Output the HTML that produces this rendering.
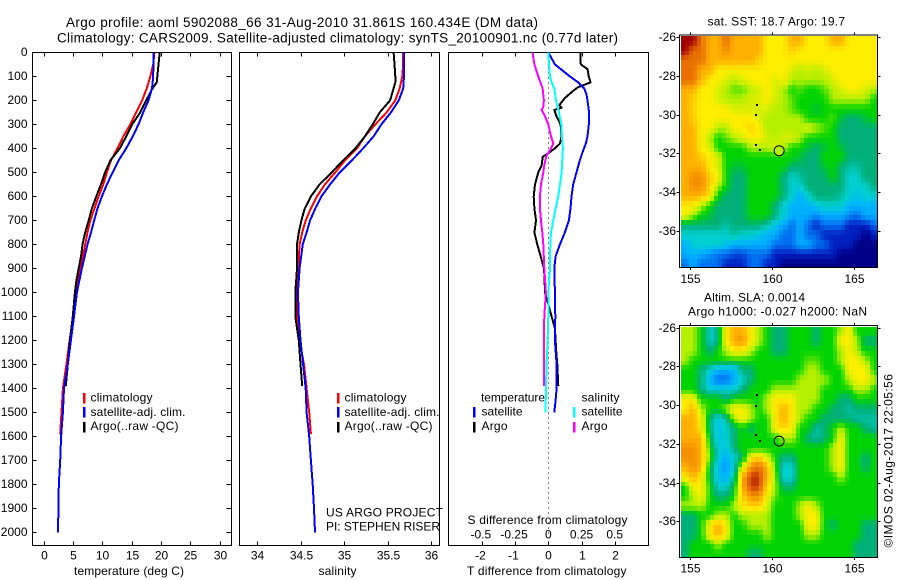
<!DOCTYPE html>
<html>
<head>
<meta charset="utf-8">
<title>Argo profile</title>
<style>
html,body{margin:0;padding:0;background:#fff;width:900px;height:580px;overflow:hidden}
svg{display:block}
text{font-family:"Liberation Sans",sans-serif;font-size:12px;fill:#000}
.t{font-size:13.5px}
.ax{fill:none;stroke:#000;stroke-width:1;shape-rendering:crispEdges}
.ln{fill:none;stroke-width:2;shape-rendering:crispEdges;stroke-linejoin:round}
</style>
</head>
<body>
<svg id="fig" xmlns="http://www.w3.org/2000/svg" width="900" height="580" viewBox="0 0 900 580">
  <rect x="0" y="0" width="900" height="580" fill="#fff"/>
  <text class="t" x="66" y="27" textLength="472">Argo profile: aoml 5902088_66 31-Aug-2010 31.861S 160.434E (DM data)</text>
  <text class="t" x="57" y="42.5" textLength="561">Climatology: CARS2009. Satellite-adjusted climatology: synTS_20100901.nc (0.77d later)</text>

  <g id="p1"></g>
  <g id="p2"></g>
  <g id="p3"></g>
  <g id="m1"></g>
  <g id="m2"></g>

  <g>
    <rect x="83" y="393" width="2.5" height="10.5" fill="#f00"/>
    <rect x="83" y="407" width="2.5" height="10.5" fill="#00f"/>
    <rect x="83" y="422" width="2.5" height="10.5" fill="#000"/>
    <text x="90.5" y="401.7" textLength="62">climatology</text>
    <text x="90.5" y="416" textLength="95">satellite-adj. clim.</text>
    <text x="90.5" y="430" textLength="88">Argo(..raw -QC)</text>
  </g>
  <g>
    <rect x="337" y="393" width="2.5" height="10.5" fill="#f00"/>
    <rect x="337" y="407" width="2.5" height="10.5" fill="#00f"/>
    <rect x="337" y="422" width="2.5" height="10.5" fill="#000"/>
    <text x="344.5" y="401.7" textLength="62">climatology</text>
    <text x="344.5" y="416" textLength="95">satellite-adj. clim.</text>
    <text x="344.5" y="430" textLength="88">Argo(..raw -QC)</text>
  </g>
  <text x="326" y="516.7" textLength="117">US ARGO PROJECT</text>
  <text x="326" y="530.7" textLength="114">PI: STEPHEN RISER</text>

  <g>
    <text x="481" y="401.7" textLength="64">temperature</text>
    <rect x="473" y="407" width="2.5" height="10.5" fill="#00f"/>
    <rect x="473" y="422" width="2.5" height="10.5" fill="#000"/>
    <text x="481.5" y="415.5" textLength="41">satellite</text>
    <text x="481.5" y="430" textLength="26">Argo</text>
    <text x="581.5" y="401.7" textLength="38">salinity</text>
    <rect x="573" y="407" width="2.5" height="10.5" fill="#0ff"/>
    <rect x="573" y="422" width="2.5" height="10.5" fill="#f0f"/>
    <text x="581.5" y="415.5" textLength="41">satellite</text>
    <text x="581.5" y="430" textLength="26">Argo</text>
  </g>

  <text x="74" y="575" textLength="110">temperature (deg C)</text>
  <text x="318.5" y="575" textLength="38">salinity</text>
  <text x="467.5" y="524" textLength="160">S difference from climatology</text>
  <text x="467" y="575" textLength="159.5">T difference from climatology</text>

  <text x="707.5" y="25.5" textLength="137.5">sat. SST: 18.7 Argo: 19.7</text>
  <text x="704" y="301.5" textLength="101">Altim. SLA: 0.0014</text>
  <text x="688" y="315.7" textLength="179">Argo h1000: -0.027 h2000: NaN</text>
  <text transform="translate(892.5,547.5) rotate(-90)" x="0" y="0" textLength="173.5">©IMOS 02-Aug-2017 22:05:56</text>
</svg>

<script>
// ---- Profile data ----
const depthTicks = [0,100,200,300,400,500,600,700,800,900,1000,1100,1200,1300,1400,1500,1600,1700,1800,1900,2000];
const tempTicks = [0,5,10,15,20,25,30];
const salTicks = [34,34.5,35,35.5,36];
const salTickLabels = ['34','34.5','35','35.5','36'];
const diffTTicks = [-2,-1,0,1,2];
const diffSTicks = [-0.5,-0.25,0,0.25,0.5];
const diffSTickLabels = ['-0.5','-0.25','0','0.25','0.5'];
const lonTicks = [155,160,165];
const latTicks = [26,28,30,32,34,36];

const climDepth = [0,50,100,150,200,250,300,350,400,450,500,550,600,650,700,750,800,900,1000,1100,1200,1300,1400,1500,1590];
const climTemp = [18.9,18.7,18.2,17.6,16.8,15.8,14.8,13.6,12.6,11.5,10.8,10.2,9.4,8.7,8.0,7.5,7.1,6.25,5.6,5.05,4.45,3.9,3.3,3.07,2.85];
const climSal = [35.68,35.68,35.67,35.64,35.59,35.49,35.36,35.24,35.15,35.01,34.90,34.78,34.69,34.62,34.56,34.52,34.49,34.475,34.46,34.465,34.49,34.54,34.57,34.60,34.62];

const satDepth = [0,100,150,200,250,300,350,400,450,500,550,600,650,700,750,800,900,1000,1100,1200,1300,1400,1500,1600,1700,1800,1900,2000];
const satTemp = [18.75,18.7,18.5,17.9,17,16.2,15.2,14.1,12.8,11.8,10.8,9.95,9.2,8.65,8.1,7.5,6.55,5.7,5.2,4.67,4.15,3.5,3.3,3.0,2.85,2.6,2.55,2.45];
const satSal = [35.69,35.69,35.68,35.63,35.54,35.43,35.34,35.22,35.09,34.95,34.84,34.74,34.67,34.61,34.57,34.525,34.49,34.47,34.48,34.50,34.53,34.56,34.57,34.60,34.62,34.64,34.655,34.667];

const argoDepth = [0,50,100,125,150,200,250,300,350,400,450,500,550,600,650,700,750,800,850,900,950,1000,1100,1200,1300,1390];
const argoTemp = [19.8,19.6,19.4,19.3,18.6,17.5,16.5,15.1,14.1,13.0,11.4,10.5,9.8,9.0,8.25,7.7,7.1,6.65,6.4,6.0,5.6,5.35,5.0,4.5,4.15,3.8];
const argoSal = [35.57,35.58,35.59,35.59,35.57,35.53,35.41,35.33,35.24,35.13,34.99,34.86,34.72,34.62,34.55,34.51,34.48,34.46,34.46,34.46,34.45,34.44,34.44,34.48,34.50,34.52];

const diffArgoDepth = [0,30,50,70,100,125,145,160,190,220,230,240,260,300,350,380,400,420,435,470,500,550,600,650,700,750,800,850,900,950,1000,1050,1100,1150,1200,1250,1300,1390];
const diffArgoT = [0.97,0.97,0.98,1.18,1.22,1.27,0.9,0.75,0.5,0.33,0.4,0.18,0.23,0.37,0.40,0.35,0.2,0,-0.17,-0.2,-0.3,-0.4,-0.44,-0.42,-0.37,-0.42,-0.33,-0.23,-0.13,-0.11,-0.1,0,0.1,0.2,0.22,0.24,0.27,0.3];
const diffSatTDepth = [0,30,50,70,100,125,150,175,200,250,300,350,380,420,450,500,550,600,650,700,750,800,850,900,1000,1100,1200,1300,1400,1450,1500];
const diffSatT = [0,0.12,0.2,0.38,0.65,0.9,1.08,1.15,1.18,1.23,1.22,1.18,1.13,1.02,0.95,0.85,0.75,0.7,0.67,0.62,0.5,0.35,0.22,0.18,0.2,0.21,0.2,0.25,0.25,0.22,0.18];
const diffSatSDepth = [0,50,100,125,150,200,250,300,350,400,450,500,550,600,650,700,750,800,900,1000,1100,1200,1300,1400,1500];
const diffSatS = [0,0.005,0.013,0.025,0.045,0.058,0.08,0.098,0.103,0.11,0.105,0.10,0.088,0.075,0.055,0.038,0.02,0.015,0.0125,0,0,-0.005,-0.0125,-0.018,-0.02];
const diffArgoSDepth = [0,50,100,150,200,225,240,260,300,350,380,400,430,470,500,550,600,650,700,750,800,900,1000,1100,1200,1300,1390];
const diffArgoS = [-0.118,-0.105,-0.075,-0.043,-0.033,-0.038,-0.05,-0.03,0,0.02,0.038,0.02,-0.0125,-0.03,-0.038,-0.055,-0.063,-0.063,-0.055,-0.045,-0.038,-0.03,-0.018,-0.03,-0.033,-0.033,-0.033];

// ---- Map data: colour-level (0 navy .. 11 dark red), rows 26S -> 38S, columns 154.5E -> 166.5E ----
const sstRows = [
[11,11,10,9,9,10,9,9,9,9,8,8,8,9,9,8,8,8,9,9,8,8,8,8],
[11,10,10,9,9,9.5,9,9,9,9,8,8,8,8.5,8,8,8,8,8,8,8,8,8,8],
[10,10,10,9,9,9,9,9,9,8.5,8,8,8,8,8,8,8,8,8,8,8,8,8,8],
[10,10,9,9,8,8,8,8,8,8,8,8,8,7.5,7,7.5,7,7.5,8,8,8,8,8,8],
[10,10,9,8,8,7.5,7,7.5,8,8,8,7.5,8,7,7,7,7,7,7.5,8,8,8,8,8],
[9,9,8,8,7.5,7,6.5,6.5,7,7.5,8,7.5,7,6,6.5,6,6,6.5,7,7.5,8,8,7.5,7],
[9,8.5,8,8,7.5,7,7,7,7.5,7.5,8,7.5,7,6.5,6,6,6,6,7,7,7,7,7,6],
[9,8.5,8,8,8,8,7.5,7.5,7.5,7.5,7.5,7,7,6.5,6,6,5.5,6,6,6,6,6,6,6],
[9,8.5,8,8,8,8,8,8,8,7.5,7,7,7,7,7,6,6,6,6.5,5.5,5,5,5.5,6],
[9,9,8,8,7,7,8,8,8.5,8,7,7,7,7,7,7.5,7,6.5,6,5,5,5,5,5],
[9,9,8,7,6,6.5,7,7.5,8,8,7.5,7,7.5,7.5,7,6,6,6,6,5,5,5,5,5],
[9,9,8,7.5,6,6,6,6,7,7,7,7.5,7,6,6,5.5,5,5.5,6,5.5,5,5,5,5],
[9,9,8.5,8,7.5,6,6,6,6,6,6,6,6,6,5.5,5,5,6,6,6,5,5,5,5],
[9,9,9,8,7.5,6,5.5,5.5,6,6,6,6,6,5,5,5,5,5.5,6,5,4.5,4.5,5,5],
[9,9.5,9.5,8.5,8,6,5,5,6,6,6,6,5,4,4.5,5,5,5,6,5,4,4,5,5],
[9,9.5,9.5,8.5,7,6,5,5,6,6,6,6,5,4,4,5,5,5,5,5,4,4,4,5],
[9,9,9,8,6,5,5,5,6,6,6,6,5,4,3,4,5,5,5,4.5,4,3.5,4,4],
[8,8,7,6,5,5,5,5,6,6,6,5,4,3,3,3,3.5,4,4,4,3,3,3,3],
[8,7,6,5.5,5,5,5,5,6,6,6,5,4,3,3,3,2.5,3,3,3,2.5,2,3,3],
[5,5,5,5,5,4.5,5,5,5,5,4.5,3.5,3,2,3,2,1,2,2,2,1,1,1,2],
[4,4,4,4,4,4,4.5,4,4,3.5,3,3,2,2,3,2,2,1,1,1,1,1,0,1],
[3,4,4,4,4,3.5,3,3,3,3,3,2,2,2,3,3,2,2,1,1,1,0,0,0],
[3,3,3,2.5,2,2,1.5,1.5,2,2,2,1,1,1,1,1,1,1,1,0,0,0,0,0],
[2,3,2,2,2,1,1,1,2,2,1,1,0,0,0,0,0,0,0,0,0,0,0,0]
];
const slaRows = [
[7,7,6,4,5,8,9,9,8,7,6,5,5,6,6,6,5,6,6,7,8,6,6,6],
[7,7,6,4,5,8,9,9.5,8,7,6,5,5,6,6,6,5,6,6,8,8,7,5,5],
[7,7,6,5,6,7,8,8,7,6,6,5,5,6,6,6,6,6,6,7,8,7,6,6],
[7,6,6,6,6,6,6,6,6,6,6,6,6,6,6,6.5,6.5,6,6,7,8,8,7,6],
[6,6,5,4,3,3,3,5,5,6,6,6,6,6,6,7,7,6,6,6,8,8,8,6],
[6,6,5,3,2,2,3,4,5,6,6,6,6,6,7,7,7,7,6,6,7,8,8,7],
[6,6,5,4,4,4,4,5,6,6,6,7,7,7,7,7,7,6,6,6,6,7,7,6],
[8,8,6,6,6,5,6,6,6,6,7,8,8,8,7,7,7,6,6,5,5,6,6,6],
[8,9,7,6,6,7,8,8,7,6,7,8,9,8,7,7,6,6,5,5,4.5,5,5,5],
[9,9,8,5,3.5,4.5,7,8,7,6,6,8,9,8,7,6,6,5,5,5,5,4.5,4.5,4.5],
[9,9,8,5,3.5,4,5,6,5,6,6,8,8.5,8,6,6,4.5,5,6,7,6,6,5,4.5],
[9,9,9,5.5,3.5,4,5,6,6,6,6,6,7,7,6,5,4.5,5,6,8,6,6,6,6],
[9.5,9.5,9,6,4,3.5,5,6,6,6,6,6,6,6,6,6,6,6,7,8,6,6,6,6],
[9.5,9.5,9,6.5,4,3,4,5,8,8.5,7.5,6,5,5,6,6,6,6,7,8,6,6,5,6],
[9,9.5,9,5.5,3.5,2.5,4,7.5,9.5,10,9,6.5,4,4,6,6,6,6,7,8,6,6,5,6],
[8,9,8,5.5,3.5,3,4.5,9,10.5,10.5,9,7,4,4,6,6,6,6,6,7,6,6,6,6],
[6,8,8,6,4,4,5.5,9,10.5,10.5,8.5,7,5,5,6,6,6,6,6,6,6,6,6,6],
[6,7,8,6,5,5,6,8.5,9.5,9.5,8,6.5,6,6,6,6,6,6,6,6,6,6,6,6],
[7,7,7,6,6,6,7,8,8.5,8.5,7.5,6,6,6,7,8,7,6,6,6,6,6,6,6],
[5,5,6,6,7,7,6,7,7,7,7,6,6,6,7,8,8,6,6,6,6,6,6,6],
[5,5,6,8,9,8,6,6,7,7,7,6,6,6,6,8,8,6,5,6,6,6,5,5],
[5,5,6,8,9,8,6,6,6,6,7,6,6,6,6,7,7,6,6,6,6,6,5,5],
[5,6,6,6,7,6,6,6,6,6,6,6,6,6,6,6,6,6,6,6,6,5,5,5],
[5,6,6,6,6,6,6,6,5,5,6,6,6,6,6,6,6,6,6,6,6,5,5,5]
];
const islandLons = [159.0,158.97,158.98,159.2];
const islandLats = [29.45,29.98,31.5,31.78];
const floatLon = 160.434;
const floatLat = 31.861;
const sstFloatLevel = 7;
const levelColors = ['#000088','#0020c0','#0070f0','#00b0ff','#00d0d0','#00b078','#00d400','#b4f000','#ffee00','#ffb000','#e87000','#a00000'];

// ---- Axis functions ----
const NS = 'http://www.w3.org/2000/svg';
const yDepth = d => 52.4 + d * 0.24;
const xTemp = v => 43.5 + v * 5.867;
const xSal = v => 257 + (v - 34) * 87;
const xDiffT = v => 548.3 + v * 33.2;
const xDiffS = v => 548.3 + v * 4 * 33.2;
const mapX = lon => 690 + (lon - 155) * 16.4;
const mapYTop = lat => 37 + (lat - 26) * 19.4;
const mapYBot = lat => 327.7 + (lat - 26) * 19.35;

function node(parent, tag, props) {
  const el = document.createElementNS(NS, tag);
  for (const k in props) el.setAttribute(k, props[k]);
  parent.appendChild(el);
  return el;
}
function label(parent, str, x, y, anchor) {
  const el = node(parent, 'text', {x: x, y: y, 'text-anchor': anchor});
  el.textContent = str;
  return el;
}
function series(parent, name, depth, vals, xf, color) {
  const pts = vals.map((v, i) => xf(v).toFixed(1) + ',' + yDepth(depth[i]).toFixed(1)).join(' ');
  const el = node(parent, 'polyline', {'class': 'ln', points: pts, stroke: color});
  
  
}
function panelFrame(parent, l, r, t, b) {
  const el = node(parent, 'rect', {'class': 'ax', x: l, y: t, width: r - l, height: b - t});
  
  
}
function hTick(parent, x1, x2, y) {
  const el = node(parent, 'line', {'class': 'ax', x1: x1, x2: x2, y1: y, y2: y});
  
  
}
function vTick(parent, x, y1, y2) {
  const el = node(parent, 'line', {'class': 'ax', x1: x, x2: x, y1: y1, y2: y2});
  
  
}
function xTickLabel(parent, str, x, y) {
  const el = label(parent, str, x, y, 'middle');
  
  
}
function yTickLabel(parent, str, x, y) {
  const el = label(parent, str, x, y, 'end');
  
  
}

const TOP = 52.5, BOT = 545.5;

// Temperature panel
const p1 = document.getElementById('p1');
panelFrame(p1, 32.5, 231.5, TOP, BOT);
depthTicks.forEach(d => {
  const y = Math.round(yDepth(d)) + 0.5;
  hTick(p1, 32.5, 36.5, y);
  hTick(p1, 226.5, 231.5, y);
  yTickLabel(p1, String(d), 27.5, y + 3.5);
});
tempTicks.forEach(v => {
  const x = Math.round(xTemp(v)) + 0.5;
  vTick(p1, x, TOP, TOP + 4);
  vTick(p1, x, BOT - 4, BOT);
  xTickLabel(p1, String(v), x, 559.3);
});
series(p1, 'climatology-temperature-line', climDepth, climTemp, xTemp, '#f00');
series(p1, 'argo-temperature-line', argoDepth, argoTemp, xTemp, '#000');
series(p1, 'satellite-temperature-line', satDepth, satTemp, xTemp, '#00f');

// Salinity panel
const p2 = document.getElementById('p2');
panelFrame(p2, 239.5, 439.5, TOP, BOT);
salTicks.forEach((v, i) => {
  const x = Math.round(xSal(v)) + 0.5;
  vTick(p2, x, TOP, TOP + 4);
  vTick(p2, x, BOT - 4, BOT);
  xTickLabel(p2, salTickLabels[i], x, 559.3);
});
series(p2, 'climatology-salinity-line', climDepth, climSal, xSal, '#f00');
series(p2, 'argo-salinity-line', argoDepth, argoSal, xSal, '#000');
series(p2, 'satellite-salinity-line', satDepth, satSal, xSal, '#00f');

// Difference panel
const p3 = document.getElementById('p3');
panelFrame(p3, 448.5, 648.5, TOP, BOT);
diffTTicks.forEach(v => {
  const x = Math.round(xDiffT(v)) + 0.5;
  vTick(p3, x, TOP, TOP + 4);
  vTick(p3, x, BOT - 4, BOT);
  xTickLabel(p3, String(v), x - (v < 0 ? 2 : 0), 559.3);
});
diffSTicks.forEach((v, i) => {
  xTickLabel(p3, diffSTickLabels[i], xDiffS(v) - (v < 0 ? 1 : 0), 538.7);
});
const zeroX = Math.round(xDiffT(0)) + 0.5;
const zeroLine = node(p3, 'line', {x1: zeroX, x2: zeroX, y1: TOP, y2: BOT, stroke: '#000', 'stroke-width': 1, 'stroke-dasharray': '1 4', 'shape-rendering': 'crispEdges'});


series(p3, 'argo-t-difference-line', diffArgoDepth, diffArgoT, xDiffT, '#000');
series(p3, 'satellite-t-difference-line', diffSatTDepth, diffSatT, xDiffT, '#00f');
series(p3, 'argo-s-difference-line', diffArgoSDepth, diffArgoS, xDiffS, '#f0f');
series(p3, 'satellite-s-difference-line', diffSatSDepth, diffSatS, xDiffS, '#0ff');

// Maps: the colour level is sampled from the grid at half-cell resolution
function levelColor(level) {
  const k = Math.max(0, Math.min(levelColors.length - 1.001, level));
  const i = Math.floor(k), f = k - i;
  const a = levelColors[i], b = levelColors[i + 1];
  const ch = n => {
    const va = parseInt(a.substr(1 + n * 2, 2), 16), vb = parseInt(b.substr(1 + n * 2, 2), 16);
    return Math.round(va + (vb - va) * f);
  };
  return 'rgb(' + ch(0) + ',' + ch(1) + ',' + ch(2) + ')';
}
function sampleGrid(rows, gx, gy) {
  const cx = Math.max(0, Math.min(rows[0].length - 1, gx));
  const cy = Math.max(0, Math.min(rows.length - 1, gy));
  const i0 = Math.floor(cx), j0 = Math.floor(cy);
  const i1 = Math.min(i0 + 1, rows[0].length - 1), j1 = Math.min(j0 + 1, rows.length - 1);
  const fx = cx - i0, fy = cy - j0;
  return (rows[j0][i0] * (1 - fx) + rows[j0][i1] * fx) * (1 - fy) + (rows[j1][i0] * (1 - fx) + rows[j1][i1] * fx) * fy;
}
function drawMap(gId, rows, yf, top, bottom, floatFill, baseline) {
  const g = document.getElementById(gId);
  const lon0 = 154.45, lat0 = 25.95, step = 0.25;
  for (let j = 0; j < rows.length * 2; j++) {
    for (let i = 0; i < rows[0].length * 2; i++) {
      const level = sampleGrid(rows, (i + 0.5) / 2 - 0.5, (j + 0.5) / 2 - 0.5);
      const x0 = Math.round(mapX(lon0 + i * step));
      const x1 = Math.min(Math.round(mapX(lon0 + (i + 1) * step)), 878);
      const y0 = Math.round(yf(lat0 + j * step));
      const y1 = Math.min(Math.round(yf(lat0 + (j + 1) * step)), bottom);
      if (y1 <= y0 || x1 <= x0) continue;
      const c = node(g, 'rect', {x: x0, y: y0, width: x1 - x0, height: y1 - y0, fill: levelColor(level), 'shape-rendering': 'crispEdges'});
      
      
    }
  }
  panelFrame(g, 679.5, 877.5, top - 0.5, bottom + 0.5);
  latTicks.forEach(lat => {
    const y = Math.round(yf(lat)) + 0.5;
    hTick(g, 676.5, 679.5, y);
    hTick(g, 877.5, 880.5, y);
    yTickLabel(g, '-' + lat, 676, y + 3.5);
  });
  lonTicks.forEach(lon => {
    const x = Math.round(mapX(lon)) + 0.5;
    vTick(g, x, top - 3, top);
    vTick(g, x, bottom, bottom + 3);
    xTickLabel(g, String(lon), x, baseline);
  });
  islandLons.forEach((lon, i) => {
    const d = node(g, 'rect', {x: Math.round(mapX(lon)), y: Math.round(yf(islandLats[i])), width: 2, height: 2, fill: '#000', 'shape-rendering': 'crispEdges'});
    
    
  });
  const m = node(g, 'circle', {cx: mapX(floatLon), cy: yf(floatLat), r: 5, fill: floatFill, stroke: '#000', 'stroke-width': 1});
  
  
}
drawMap('m1', sstRows, mapYTop, 35.5, 267, levelColors[sstFloatLevel], 283);
drawMap('m2', slaRows, mapYBot, 326, 557, 'none', 572.7);
</script>
</body>
</html>
